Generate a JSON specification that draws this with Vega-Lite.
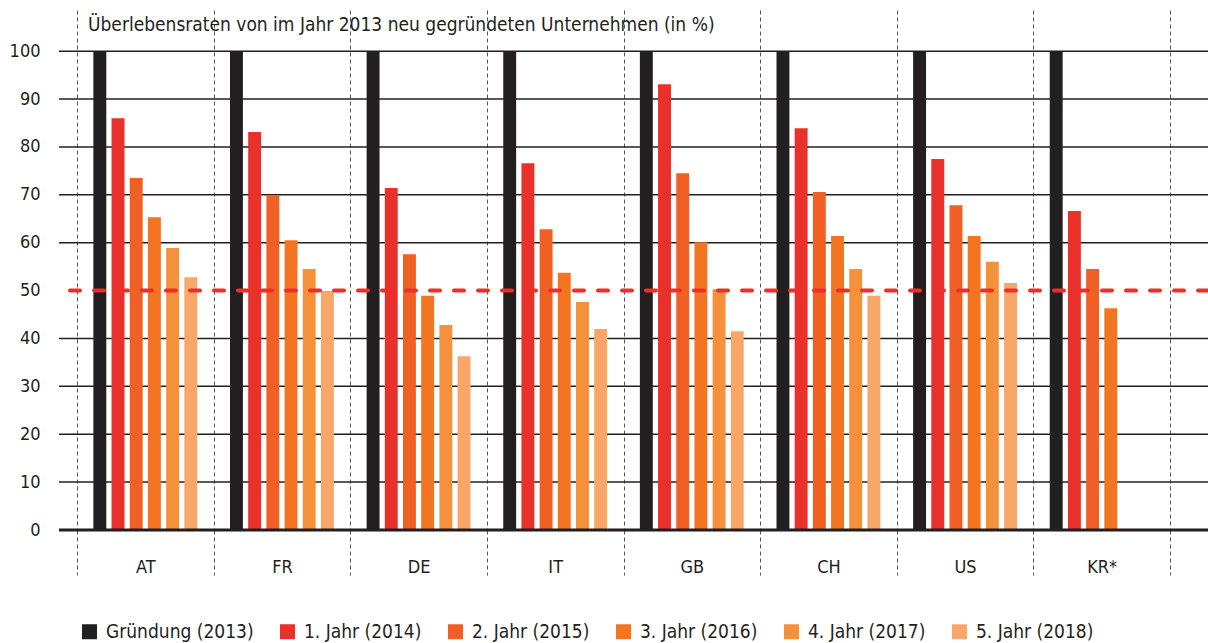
{
  "$schema": "https://vega.github.io/schema/vega-lite/v6.json",
  "width": 1149,
  "height": 520,
  "autosize": {"type": "none"},
  "padding": {"left": 59, "top": 10, "right": 0, "bottom": 113},
  "background": "white",
  "config": {
    "view": {"stroke": null},
    "font": "DejaVu Sans Condensed"
  },
  "title": {
    "text": "Überlebensraten von im Jahr 2013 neu gegründeten Unternehmen (in %)",
    "anchor": "start",
    "frame": "group",
    "orient": "top",
    "offset": -40,
    "dx": 29,
    "baseline": "alphabetic",
    "font": "DejaVu Sans Condensed",
    "fontSize": 19,
    "fontWeight": "normal",
    "color": "#231f20"
  },
  "datasets": {
    "rates": [
      {"country": "AT", "series": "Gründung (2013)", "value": 100},
      {"country": "AT", "series": "1. Jahr (2014)", "value": 86.0},
      {"country": "AT", "series": "2. Jahr (2015)", "value": 73.5},
      {"country": "AT", "series": "3. Jahr (2016)", "value": 65.3},
      {"country": "AT", "series": "4. Jahr (2017)", "value": 58.9},
      {"country": "AT", "series": "5. Jahr (2018)", "value": 52.8},
      {"country": "FR", "series": "Gründung (2013)", "value": 100},
      {"country": "FR", "series": "1. Jahr (2014)", "value": 83.1},
      {"country": "FR", "series": "2. Jahr (2015)", "value": 69.9},
      {"country": "FR", "series": "3. Jahr (2016)", "value": 60.5},
      {"country": "FR", "series": "4. Jahr (2017)", "value": 54.5},
      {"country": "FR", "series": "5. Jahr (2018)", "value": 49.9},
      {"country": "DE", "series": "Gründung (2013)", "value": 100},
      {"country": "DE", "series": "1. Jahr (2014)", "value": 71.4},
      {"country": "DE", "series": "2. Jahr (2015)", "value": 57.6},
      {"country": "DE", "series": "3. Jahr (2016)", "value": 48.9},
      {"country": "DE", "series": "4. Jahr (2017)", "value": 42.8},
      {"country": "DE", "series": "5. Jahr (2018)", "value": 36.3},
      {"country": "IT", "series": "Gründung (2013)", "value": 100},
      {"country": "IT", "series": "1. Jahr (2014)", "value": 76.6},
      {"country": "IT", "series": "2. Jahr (2015)", "value": 62.8},
      {"country": "IT", "series": "3. Jahr (2016)", "value": 53.7},
      {"country": "IT", "series": "4. Jahr (2017)", "value": 47.6},
      {"country": "IT", "series": "5. Jahr (2018)", "value": 42.0},
      {"country": "GB", "series": "Gründung (2013)", "value": 100},
      {"country": "GB", "series": "1. Jahr (2014)", "value": 93.1},
      {"country": "GB", "series": "2. Jahr (2015)", "value": 74.5},
      {"country": "GB", "series": "3. Jahr (2016)", "value": 60.1},
      {"country": "GB", "series": "4. Jahr (2017)", "value": 50.3},
      {"country": "GB", "series": "5. Jahr (2018)", "value": 41.5},
      {"country": "CH", "series": "Gründung (2013)", "value": 100},
      {"country": "CH", "series": "1. Jahr (2014)", "value": 83.9},
      {"country": "CH", "series": "2. Jahr (2015)", "value": 70.6},
      {"country": "CH", "series": "3. Jahr (2016)", "value": 61.4},
      {"country": "CH", "series": "4. Jahr (2017)", "value": 54.5},
      {"country": "CH", "series": "5. Jahr (2018)", "value": 48.9},
      {"country": "US", "series": "Gründung (2013)", "value": 100},
      {"country": "US", "series": "1. Jahr (2014)", "value": 77.5},
      {"country": "US", "series": "2. Jahr (2015)", "value": 67.8},
      {"country": "US", "series": "3. Jahr (2016)", "value": 61.4},
      {"country": "US", "series": "4. Jahr (2017)", "value": 56.0},
      {"country": "US", "series": "5. Jahr (2018)", "value": 51.6},
      {"country": "KR*", "series": "Gründung (2013)", "value": 100},
      {"country": "KR*", "series": "1. Jahr (2014)", "value": 66.6},
      {"country": "KR*", "series": "2. Jahr (2015)", "value": 54.5},
      {"country": "KR*", "series": "3. Jahr (2016)", "value": 46.3}
    ],
    "gridlines": [
      {"tick": 10}, {"tick": 20}, {"tick": 30}, {"tick": 40},
      {"tick": 60}, {"tick": 70}, {"tick": 80}, {"tick": 90}, {"tick": 100}
    ],
    "refs": [
      {"level": 0, "kind": "zero"},
      {"level": 50, "kind": "half"}
    ]
  },
  "layer": [
    {
      "data": {"name": "gridlines"},
      "mark": {"type": "rule", "color": "#231f20", "strokeWidth": 1.5},
      "encoding": {
        "y": {"field": "tick", "type": "quantitative"}
      }
    },
    {
      "data": {"name": "rates"},
      "mark": {"type": "bar"},
      "encoding": {
        "x": {
          "field": "country",
          "type": "nominal",
          "sort": ["AT", "FR", "DE", "IT", "GB", "CH", "US", "KR*"],
          "scale": {"range": [18, 1111], "paddingInner": 0, "paddingOuter": 0},
          "axis": {
            "title": null,
            "orient": "bottom",
            "tickBand": "extent",
            "grid": true,
            "gridDash": [4, 3],
            "gridColor": "#555555",
            "gridWidth": 1,
            "ticks": true,
            "tickSize": 45,
            "tickDash": [4, 3],
            "tickColor": "#555555",
            "tickWidth": 1,
            "domain": false,
            "labelPadding": -17,
            "labelFont": "DejaVu Sans Condensed",
            "labelFontSize": 18,
            "labelColor": "#231f20",
            "labelAngle": 0
          }
        },
        "xOffset": {
          "field": "series",
          "type": "nominal",
          "sort": ["Gründung (2013)", "1. Jahr (2014)", "2. Jahr (2015)", "3. Jahr (2016)", "4. Jahr (2017)", "5. Jahr (2018)"],
          "scale": {"paddingInner": 0.29, "paddingOuter": 0.9}
        },
        "y": {
          "field": "value",
          "type": "quantitative",
          "scale": {"domain": [0, 108.6], "nice": false},
          "axis": {
            "title": null,
            "values": [0, 10, 20, 30, 40, 50, 60, 70, 80, 90, 100],
            "grid": false,
            "domain": false,
            "ticks": false,
            "labelPadding": 19,
            "labelFont": "DejaVu Sans Condensed",
            "labelFontSize": 18,
            "labelColor": "#231f20"
          }
        },
        "color": {
          "field": "series",
          "type": "nominal",
          "scale": {
            "domain": ["Gründung (2013)", "1. Jahr (2014)", "2. Jahr (2015)", "3. Jahr (2016)", "4. Jahr (2017)", "5. Jahr (2018)"],
            "range": ["#231f20", "#e9302a", "#f05f24", "#f37522", "#f5913b", "#f8a769"]
          },
          "legend": {
            "title": null,
            "orient": "none",
            "direction": "horizontal",
            "legendX": 21,
            "legendY": 612,
            "symbolType": "square",
            "symbolSize": 225,
            "symbolStrokeWidth": 0,
            "symbolOpacity": 1,
            "labelFont": "DejaVu Sans Condensed",
            "labelFontSize": 19,
            "labelColor": "#231f20",
            "labelOffset": 7,
            "columnPadding": 24
          }
        }
      }
    },
    {
      "data": {"name": "refs"},
      "transform": [{"filter": "datum.kind === 'zero'"}],
      "mark": {"type": "rule", "color": "#231f20", "strokeWidth": 3},
      "encoding": {"y": {"field": "level", "type": "quantitative"}}
    },
    {
      "data": {"name": "refs"},
      "transform": [{"filter": "datum.kind === 'half'"}],
      "mark": {"type": "rule", "color": "#ec2f2a", "strokeWidth": 4, "strokeDash": [10, 14], "strokeCap": "round"},
      "encoding": {"y": {"field": "level", "type": "quantitative"}}
    }
  ]
}
